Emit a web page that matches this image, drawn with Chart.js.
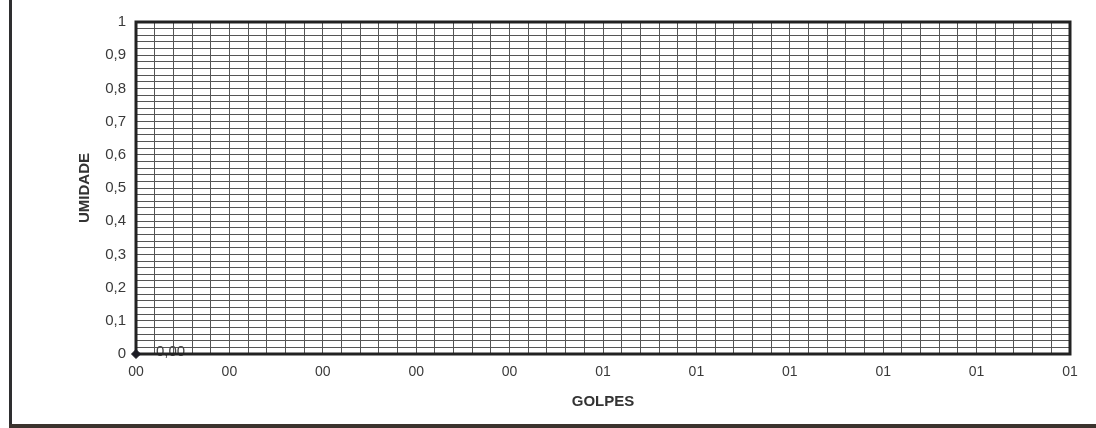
<!DOCTYPE html>
<html>
<head>
<meta charset="utf-8">
<title>Umidade x Golpes</title>
<script src="https://cdn.jsdelivr.net/npm/chart.js@4/dist/chart.umd.min.js"></script>
<style>
  html, body { margin: 0; padding: 0; background: #ffffff; }
  #wrap { position: relative; width: 1096px; height: 428px; }
  canvas { display: block; }
</style>
</head>
<body>
<div id="wrap"><canvas id="chart" width="1096" height="428"></canvas></div>
<script>
// Measured points (golpes, umidade)
const golpes = [0];
const umidade = [0];
const pointLabels = ['0,00'];

// Axis ranges and printed tick labels (one label per major step of 0.1)
const xRange = [0, 1];
const yRange = [0, 1];
const xTickLabels = ['00', '00', '00', '00', '00', '01', '01', '01', '01', '01', '01'];
const yTickLabels = ['0', '0,1', '0,2', '0,3', '0,4', '0,5', '0,6', '0,7', '0,8', '0,9', '1'];

const FONT = '"Liberation Sans", Arial, sans-serif';
const INK = '#333333';

function majorIndex(v) {
  const k = v * 10;
  const r = Math.round(k);
  return Math.abs(k - r) < 1e-6 ? r : -1;
}

// Outer page frame, plot frame and the point label
const framePlugin = {
  id: 'frames',
  beforeDraw(chart) {
    const ctx = chart.ctx;
    ctx.save();
    ctx.fillStyle = '#ffffff';
    ctx.fillRect(0, 0, chart.width, chart.height);
    ctx.restore();
  },
  beforeDatasetsDraw(chart) {
    const ctx = chart.ctx;
    const a = chart.chartArea;
    ctx.save();
    // point value labels
    const meta = chart.getDatasetMeta(0);
    ctx.font = '15px ' + FONT;
    ctx.fillStyle = '#444444';
    ctx.textAlign = 'left';
    ctx.textBaseline = 'middle';
    meta.data.forEach((el, i) => {
      ctx.fillText(pointLabels[i], el.x + 20, el.y - 2);
    });
    // plot area frame
    ctx.strokeStyle = '#222222';
    ctx.lineWidth = 3;
    ctx.strokeRect(a.left, a.top, a.right - a.left, a.bottom - a.top);
    // page frame: left and bottom rules
    ctx.lineWidth = 3;
    ctx.strokeStyle = '#2e2e30';
    ctx.beginPath();
    ctx.moveTo(10.5, 0);
    ctx.lineTo(10.5, 428);
    ctx.stroke();
    ctx.strokeStyle = '#3b332d';
    ctx.lineWidth = 4;
    ctx.beginPath();
    ctx.moveTo(9, 426);
    ctx.lineTo(1096, 426);
    ctx.stroke();
    ctx.restore();
  }
};

new Chart(document.getElementById('chart'), {
  type: 'scatter',
  data: {
    datasets: [{
      label: 'Umidade',
      data: golpes.map((g, i) => ({ x: g, y: umidade[i] })),
      pointStyle: 'rectRot',
      pointRadius: 4.5,
      pointHoverRadius: 4.5,
      backgroundColor: '#1c1c24',
      borderColor: '#1c1c24',
      borderWidth: 1,
      showLine: false,
      clip: false
    }]
  },
  options: {
    responsive: false,
    animation: false,
    events: [],
    layout: { padding: { top: 22, right: 26, left: 0, bottom: 0 } },
    plugins: {
      legend: { display: false },
      tooltip: { enabled: false },
      title: { display: false }
    },
    scales: {
      x: {
        type: 'linear',
        min: xRange[0],
        max: xRange[1],
        afterFit(scale) { scale.height = 74; },
        border: { display: false },
        grid: { color: '#555555', lineWidth: 1, drawTicks: false },
        ticks: {
          stepSize: 0.02,
          autoSkip: false,
          maxRotation: 0,
          padding: 10,
          color: '#3a3a3a',
          font: { family: FONT, size: 14 },
          callback(v) {
            const i = majorIndex(v);
            return i >= 0 ? xTickLabels[i] : '';
          }
        },
        title: {
          display: true,
          text: 'GOLPES',
          color: INK,
          font: { family: FONT, size: 15, weight: 'bold' },
          padding: { top: 0, bottom: 17 }
        }
      },
      y: {
        type: 'linear',
        min: yRange[0],
        max: yRange[1],
        afterFit(scale) { scale.width = 136; },
        border: { display: false },
        grid: { color: '#555555', lineWidth: 1, drawTicks: false },
        ticks: {
          stepSize: 0.02,
          autoSkip: false,
          padding: 10,
          color: '#3a3a3a',
          font: { family: FONT, size: 15 },
          callback(v) {
            const i = majorIndex(v);
            return i >= 0 ? yTickLabels[i] : '';
          }
        },
        title: {
          display: true,
          text: 'UMIDADE',
          color: INK,
          font: { family: FONT, size: 15, weight: 'bold' },
          padding: { top: 76, bottom: 0 }
        }
      }
    }
  },
  plugins: [framePlugin]
});
</script>
</body>
</html>
